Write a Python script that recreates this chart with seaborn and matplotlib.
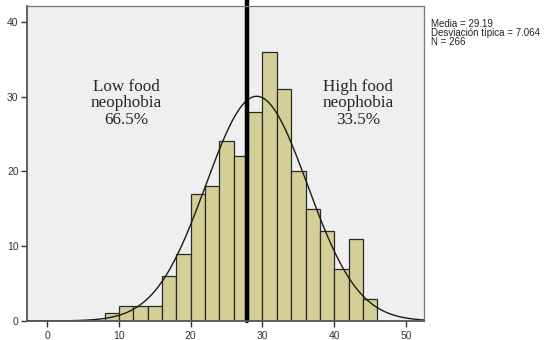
import numpy as np
import pandas as pd
import matplotlib
matplotlib.use("Agg")
import matplotlib.pyplot as plt
import seaborn as sns

# histogram data (bin width 2)
bin_edges = [8, 10, 12, 14, 16, 18, 20, 22, 24, 26, 28, 30, 32, 34, 36, 38, 40, 42, 44, 46]
counts = [1, 2, 2, 2, 6, 9, 17, 18, 24, 22, 28, 36, 31, 20, 15, 12, 7, 11, 3]

media = 29.19
desv = 7.064
n_total = 266
cut_point = 27.8

low_label = "Low food\nneophobia\n66.5%"
high_label = "High food\nneophobia\n33.5%"

df = pd.DataFrame({
    "score": [(a + b) / 2 for a, b in zip(bin_edges[:-1], bin_edges[1:])],
    "count": counts,
})

sns.set_style("white")
plt.rcParams["font.family"] = ["Liberation Sans", "DejaVu Sans"]

fig = plt.figure(figsize=(5.5, 3.4), dpi=100)
ax = fig.add_axes([0.049, 0.056, 0.722, 0.926])
ax.set_facecolor("#efefef")

sns.histplot(data=df, x="score", weights="count", bins=bin_edges, ax=ax,
             color="#d4cf97", alpha=1, edgecolor="#2a2a2a", linewidth=0.9)

# fitted normal curve
xs = np.linspace(-3, 53, 400)
bw = bin_edges[1] - bin_edges[0]
ys = n_total * bw / (desv * np.sqrt(2 * np.pi)) * np.exp(-0.5 * ((xs - media) / desv) ** 2)
sns.lineplot(x=xs, y=ys, ax=ax, color="#1a1a1a", linewidth=1.0)

# cut-off line
ax.axvline(cut_point, ymin=0, ymax=1.02, color="black", linewidth=3.2, clip_on=False)

ax.set_xlim(-2.8, 52.5)
ax.set_ylim(0, 42.1)
ax.set_xticks([0, 10, 20, 30, 40, 50])
ax.set_yticks([0, 10, 20, 30, 40])
ax.set_xlabel("")
ax.set_ylabel("")
ax.tick_params(axis="both", direction="out", length=4, width=1, color="#333333",
               labelsize=7.5, labelcolor="#333333", pad=2, bottom=True, left=True)
ax.tick_params(axis="x", pad=3)

for side in ["left", "bottom"]:
    ax.spines[side].set_color("#555555")
    ax.spines[side].set_linewidth(1.3)
for side in ["top", "right"]:
    ax.spines[side].set_color("#777777")
    ax.spines[side].set_linewidth(0.9)

ax.text(11.0, 29.1, low_label, ha="center", va="center", fontsize=12.3,
        family=["Liberation Serif", "DejaVu Serif"], linespacing=1.05)
ax.text(43.3, 29.1, high_label, ha="center", va="center", fontsize=12.3,
        family=["Liberation Serif", "DejaVu Serif"], linespacing=1.05)

stats_text = f"Media = {media:.2f}\nDesviación típica = {desv:.3f}\nN = {n_total}"
fig.text(0.784, 0.945, stats_text, ha="left", va="top", fontsize=7.0,
         color="#222222", linespacing=0.88)

fig.savefig("out.png", dpi=100)
